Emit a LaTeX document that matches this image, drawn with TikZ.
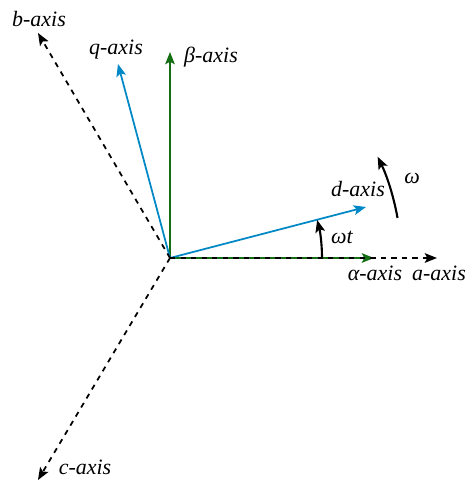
\documentclass[tikz,border=0pt]{standalone}
\usepackage{fontspec}
\setmainfont{Liberation Serif}
\usetikzlibrary{arrows.meta,positioning}

\definecolor{axblue}{RGB}{0,136,198}
\definecolor{axgreen}{RGB}{20,110,20}

\tikzset{
  abcaxis/.style={dashed, line width=1pt, -{Stealth[length=7pt,width=5.5pt,inset=1.5pt]}},
  dqaxis/.style={axblue, line width=1pt, -{Stealth[length=7pt,width=5.5pt,inset=1.5pt]}},
  ababaxis/.style={axgreen, line width=1pt, -{Stealth[length=7pt,width=5.5pt,inset=1.5pt]}},
  rotarrow/.style={line width=1.2pt, -{Stealth[length=7pt,width=5.5pt,inset=1.5pt]}},
  axlabel/.style={font=\fontsize{12.5}{14}\selectfont\itshape, inner sep=1pt}
}

\begin{document}
\begin{tikzpicture}[x=0.02cm, y=0.02cm]
  \useasboundingbox (-170,-224) rectangle (297,258);

  % Origin and axis tips
  \coordinate (O) at (0,0);
  \coordinate (atip) at (267,0);
  \coordinate (btip) at (-132,225);
  \coordinate (ctip) at (-132,-222);
  \coordinate (alphatip) at (204,0);
  \coordinate (betatip) at (0,206);
  \coordinate (dtip) at (196,51);
  \coordinate (qtip) at (-52,194);

  % Stationary alpha-beta axes
  \draw[ababaxis] (O) -- (alphatip);
  \draw[ababaxis] (O) -- (betatip);

  % Rotating d-q axes
  \draw[dqaxis] (O) -- (dtip);
  \draw[dqaxis] (O) -- (qtip);

  % Three-phase a-b-c axes
  \draw[abcaxis] (O) -- (atip);
  \draw[abcaxis] (O) -- (btip);
  \draw[abcaxis] (O) -- (ctip);

  % Labels
  \node[axlabel] (alab) at (269,-15) {a-axis};
  \node[axlabel] (blab) at (-131,239) {b-axis};
  \node[axlabel] (clab) at (-85,-209) {c-axis};
  \node[axlabel] (alphalab) at (205,-15) {α-axis};
  \node[axlabel] (betalab) at (41,201) {β-axis};
  \node[axlabel] (dlab) at (188,69) {d-axis};
  \node[axlabel] (qlab) at (-54,208) {q-axis};

  % Rotation angle and speed
  \draw[rotarrow] (152,0) arc[start angle=0, end angle=14.5, radius=152];
  \node[axlabel] (wtlab) at (172,21) {ωt};
  \draw[rotarrow] (10:231) arc[start angle=10, end angle=26, radius=231];
  \node[axlabel] (wlab) at (242,80) {ω};
\end{tikzpicture}
\end{document}
